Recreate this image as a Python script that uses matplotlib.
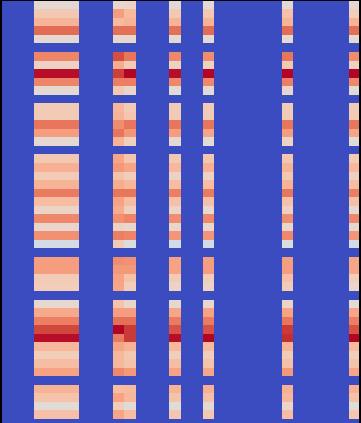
import numpy as np
import matplotlib
matplotlib.use("Agg")
import matplotlib.pyplot as plt

# Each list holds the non-blank rows of a column, top to bottom (7 blocks: 5,5,5,11,4,9,4)
block_sizes = [5, 5, 5, 11, 4, 9, 4]
wide = [.53,.61,.68,.85,.53, .80,.57,.99,.80,.53, .60,.60,.83,.74,.53,
        .61,.69,.60,.68,.82,.65,.56,.79,.55,.77,.47, .74,.74,.60,.59,
        .54,.71,.81,.92,.99,.67,.59,.65,.73, .68,.63,.52,.64]
c10 = [.54,.74,.66,.84,.54, .91,.70,.93,.81,.61, .67,.68,.78,.83,.68,
       .72,.75,.63,.70,.83,.73,.70,.77,.57,.81,.60, .78,.75,.73,.72,
       .63,.74,.84,1.0,.82,.72,.67,.67,.79, .65,.73,.59,.72]
c11 = [.56,.66,.68,.84,.54, .83,.60,1.0,.81,.55, .60,.62,.83,.76,.58,
       .62,.72,.59,.67,.83,.65,.58,.80,.54,.80,.50, .77,.75,.63,.59,
       .55,.74,.84,.94,.94,.68,.61,.63,.75, .66,.67,.52,.65]
c15 = [.53,.61,.68,.84,.53, .79,.57,.99,.79,.52, .60,.60,.83,.74,.53,
       .61,.67,.57,.65,.81,.64,.56,.78,.55,.76,.46, .73,.73,.60,.56,
       .54,.72,.82,.90,.99,.67,.59,.65,.73, .68,.63,.51,.62]
c18 = [.52,.61,.68,.85,.52, .78,.57,1.0,.79,.52, .60,.60,.83,.72,.52,
       .62,.69,.57,.65,.82,.64,.54,.79,.54,.76,.46, .74,.74,.59,.56,
       .54,.73,.82,.90,1.0,.66,.59,.63,.72, .69,.64,.53,.61]
c25 = [.53,.64,.68,.85,.53, .83,.61,1.0,.81,.55, .60,.60,.83,.74,.56,
       .62,.68,.61,.68,.83,.64,.58,.78,.55,.79,.49, .74,.74,.64,.60,
       .56,.73,.83,.94,.96,.68,.60,.64,.75, .69,.67,.55,.65]
c31 = [.53,.59,.68,.84,.53, .78,.57,1.0,.79,.52, .60,.60,.83,.72,.51,
       .60,.67,.58,.65,.81,.64,.54,.79,.54,.76,.46, .72,.72,.59,.55,
       .52,.72,.81,.90,1.0,.66,.59,.63,.72, .69,.64,.51,.62]
columns = {3: wide, 4: wide, 5: wide, 6: wide, 10: c10, 11: c11,
           15: c15, 18: c18, 25: c25, 31: c31}

n_cols = 32
n_rows = sum(block_sizes) + len(block_sizes)   # blank row after every block
row_idx = []
r = 0
for size in block_sizes:
    row_idx.extend(range(r, r + size))
    r += size + 1

matrix = np.zeros((n_rows, n_cols))
for col, vals in columns.items():
    matrix[row_idx, col] = vals

W, H = 361, 423
cell_w, cell_h = 11.25, 8.535
x0, y0 = 0.55, 0.8
left, right, top = 1.6, 359.0, 1.0

fig = plt.figure(figsize=(W / 100, H / 100), dpi=100, facecolor="black")
ax = fig.add_axes([left / W, 0, (right - left) / W, (H - top) / H])
ax.pcolormesh(matrix, cmap="coolwarm", vmin=0, vmax=1)
ax.set_xlim((left - x0) / cell_w, (right - x0) / cell_w)
ax.set_ylim((H - y0) / cell_h, (top - y0) / cell_h)
ax.axis("off")
fig.savefig("out.png", dpi=100, facecolor="black")
